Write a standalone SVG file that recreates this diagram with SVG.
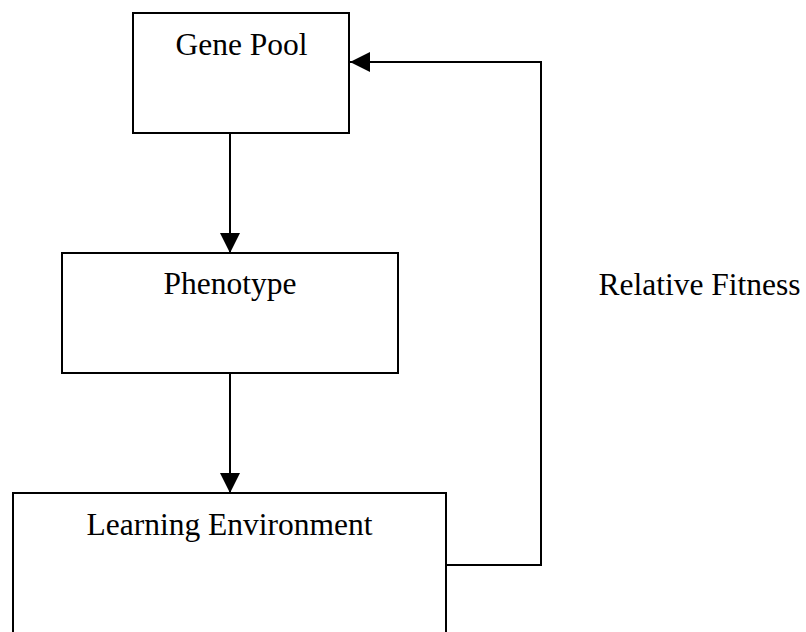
<svg xmlns="http://www.w3.org/2000/svg" width="806" height="632" viewBox="0 0 806 632">
  <defs>
    <style>
      .box { fill: #ffffff; stroke: #000000; stroke-width: 2; }
      .lbl { font-family: "Liberation Serif", "Times New Roman", serif; font-size: 31.5px; fill: #000000; text-anchor: middle; }
      .conn { fill: none; stroke: #000000; stroke-width: 2; }
    </style>
    <marker id="arrow" markerWidth="20" markerHeight="20" viewBox="0 0 20 20" refX="20" refY="10" orient="auto" markerUnits="userSpaceOnUse">
      <path d="M0,0 L20,10 L0,20 Z" fill="#000000"/>
    </marker>
  </defs>
  <rect width="806" height="632" fill="#ffffff"/>
  <g id="gene-pool">
    <rect class="box" x="133" y="13" width="216" height="120"/>
    <text class="lbl" x="241.5" y="55">Gene Pool</text>
  </g>
  <g id="phenotype">
    <rect class="box" x="62" y="253" width="336" height="120"/>
    <text class="lbl" x="230" y="294">Phenotype</text>
  </g>
  <g id="learning-environment">
    <rect class="box" x="13" y="493" width="433" height="160"/>
    <text class="lbl" x="229.5" y="535">Learning Environment</text>
  </g>
  <g id="connectors">
    <line class="conn" x1="230" y1="133" x2="230" y2="253" marker-end="url(#arrow)"/>
    <line class="conn" x1="230" y1="373" x2="230" y2="493" marker-end="url(#arrow)"/>
    <polyline class="conn" points="446,565 541,565 541,62 350,62" marker-end="url(#arrow)"/>
    <text class="lbl" x="699.5" y="295">Relative Fitness</text>
  </g>
</svg>
